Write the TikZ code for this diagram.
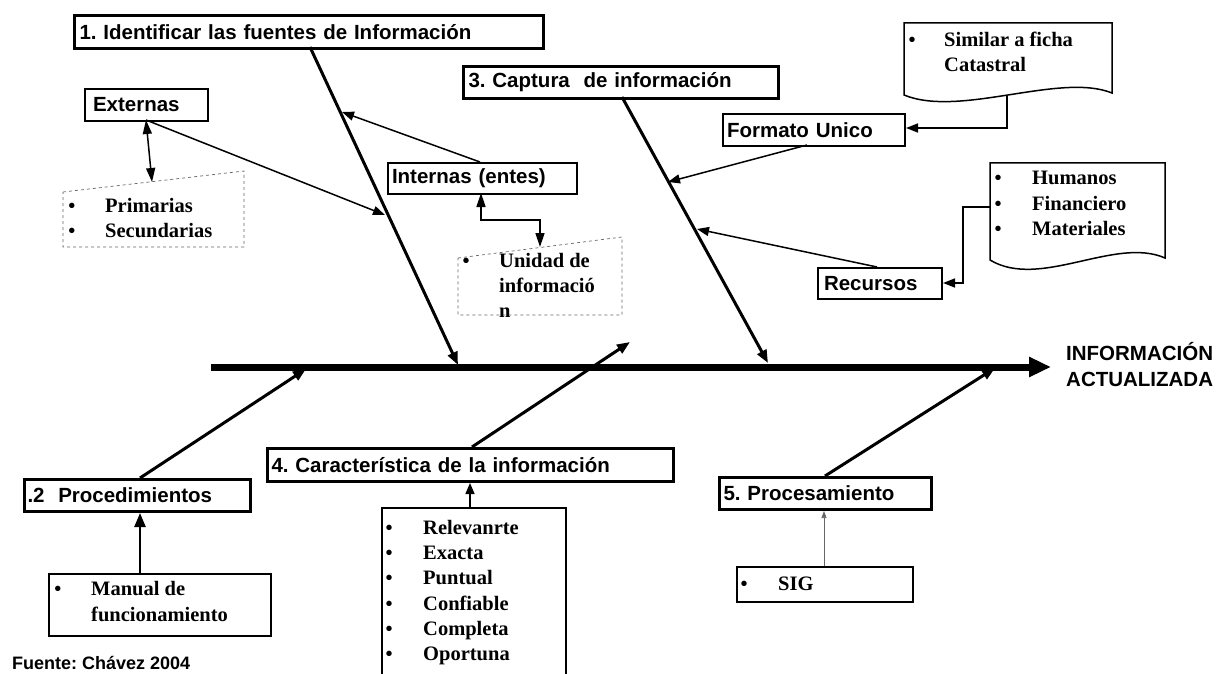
\documentclass[tikz,border=0pt]{standalone}
\usepackage{fontspec}
\setmainfont{Liberation Serif}
\setsansfont{Liberation Sans}
\usetikzlibrary{arrows.meta}
\frenchspacing
\begin{document}
\begin{tikzpicture}[x=1pt,y=-1pt,
 hdr/.style={draw, line width=3pt, anchor=north west, inner xsep=5pt, inner ysep=0pt, align=left, font=\sffamily\bfseries\fontsize{20.5}{24}\selectfont},
 sub/.style={hdr, line width=2pt},
 plainbox/.style={draw, line width=1.5pt, anchor=north west, inner sep=0pt},
 item/.style={anchor=west, inner sep=0pt, text height=15pt, text depth=5pt, font=\bfseries\fontsize{20.5}{24}\selectfont},
 bul/.style={anchor=center, inner sep=0pt, text height=15pt, text depth=5pt, font=\bfseries\fontsize{20}{24}\selectfont},
 bone/.style={line width=3pt, -{Triangle[length=13pt,width=10pt]}},
 thin/.style={line width=1.5pt, -{Triangle[length=12pt,width=9pt]}},
 thinboth/.style={line width=1.5pt, {Triangle[length=14pt,width=9pt]}-{Triangle[length=14pt,width=9pt]}},
 dashbox/.style={draw=black!60, line width=0.7pt, dashed},
]
\useasboundingbox (0,0) rectangle (1221,674);

% main boxes
\node[hdr, text width=459pt, minimum height=33pt] (b1) at (73,14) {1. Identificar las fuentes de Información};
\node[hdr, text width=305pt, minimum height=32pt] (b3) at (462,65) {3. Captura\ \ de información};
\node[hdr, text width=220pt, minimum height=32pt, inner xsep=3pt] (b2) at (23,478) {.2\ \ Procedimientos};
\node[hdr, text width=398pt, minimum height=33pt, inner xsep=4pt] (b4) at (266,447) {4. Característica de la información};
\node[hdr, text width=204pt, minimum height=32pt, inner xsep=4pt] (b5) at (718,476) {5. Procesamiento};

% sub boxes
\node[sub, text width=107pt, minimum height=32pt, inner xsep=8pt] (ext) at (84,88) {Externas};
\node[sub, text width=181pt, minimum height=31pt, inner xsep=4pt] (int) at (387,162) {Internas (entes)};
\node[sub, text width=174pt, minimum height=32pt, inner xsep=4pt] (fmt) at (722,113) {Formato Unico};
\node[sub, text width=112pt, minimum height=31pt, inner xsep=6pt] (rec) at (817,267) {Recursos};

% plain boxes
\node[plainbox, minimum width=222pt, minimum height=62pt] (man) at (48,573) {};
\node[plainbox, minimum width=184pt, minimum height=200pt] (car) at (381,507) {};
\node[plainbox, minimum width=176pt, minimum height=35pt] (sig) at (736,566) {};

% dashed boxes
\draw[dashbox] (63,192) -- (244,171) -- (244,247) -- (63,247) -- cycle;
\draw[dashbox] (458,258) -- (622,237) -- (622,315) -- (458,315) -- cycle;
\coordinate (pri) at (152,182);
\coordinate (uni) at (540,247);

% document shapes
\draw[line width=1.5pt] (904,23) -- (1112,23) -- (1112,93) .. controls (1060,72) and (960,118) .. (904,95) -- cycle;
\draw[line width=1.5pt] (990,163) -- (1165,163) -- (1165,258) .. controls (1115,236) and (1040,290) .. (990,260) -- cycle;
\coordinate (d1) at (1007,96);
\coordinate (d2) at (990,207);

% texts
\node[bul] (t1) at (72,207) {•};
\node[item] (t2) at (105,207) {Primarias};
\node[bul] (t3) at (72,232) {•};
\node[item] (t4) at (105,232) {Secundarias};

\node[bul] (u1) at (466,262) {•};
\node[item] (u2) at (499,262) {Unidad de};
\node[item] (u3) at (499,287) {informació};
\node[item] (u4) at (499,312) {n};

\node[bul] (s1) at (912,42) {•};
\node[item] (s2) at (944,42) {Similar a ficha};
\node[item] (s3) at (944,67) {Catastral};

\node[bul] (h1) at (998,180) {•};
\node[item] (h2) at (1032,180) {Humanos};
\node[bul] (h3) at (998,205) {•};
\node[item] (h4) at (1032,205) {Financiero};
\node[bul] (h5) at (998,230) {•};
\node[item] (h6) at (1032,230) {Materiales};

\node[bul] (m1) at (58,590) {•};
\node[item] (m2) at (91,590) {Manual de};
\node[item] (m3) at (91,616) {funcionamiento};

\foreach \t/\y [count=\i] in {Relevanrte/529,Exacta/554,Puntual/579,Confiable/605,Completa/630,Oportuna/655}{
  \node[bul] (cb\i) at (389,\y) {•};
  \node[item] (ct\i) at (423,\y) {\t};
}

\node[bul] (g1) at (744,585) {•};
\node[item] (g2) at (778,585) {SIG};

\node[anchor=west, inner sep=0pt, align=left, font=\sffamily\bfseries\fontsize{20.5}{26}\selectfont] (res) at (1066,365) {INFORMACIÓN\\ACTUALIZADA};
\node[anchor=base west, inner sep=0pt, font=\sffamily\bfseries\fontsize{18}{20}\selectfont] (src) at (12,669) {Fuente: Chávez 2004};

% spine
\coordinate (sp0) at (211,367);
\coordinate (sp1) at (1051,367);
\draw[line width=7pt, -{Triangle[length=22pt,width=19pt]}] (sp0) -- (sp1);

% bones
\coordinate (o1) at (310,47);  \coordinate (e1) at (458,365);
\coordinate (o3) at (622,97);  \coordinate (e3) at (768,363);
\coordinate (o2) at (140,478); \coordinate (e2) at (306,369);
\coordinate (o4) at (472,447); \coordinate (e4) at (630,342);
\coordinate (o5) at (825,476); \coordinate (e5) at (995,368);
\draw[bone] (o1) -- (e1);
\draw[bone] (o3) -- (e3);
\draw[bone] (o2) -- (e2);
\draw[bone] (o4) -- (e4);
\draw[bone] (o5) -- (e5);

% thin connectors
\coordinate (exb) at (146,120);
\draw[thinboth] (exb) -- (pri);
\draw[thin] (exb) -- (385,215) coordinate (x1);
\draw[thin] (480,162) -- (342,112) coordinate (x2);
\draw[thinboth] (481,193) -- (481,220) -- (540,220) -- (uni);
\draw[thin] (807,145) -- (668,182) coordinate (x3);
\draw[thin] (d1) -- (1007,128) -- (fmt.east |- 0,128);
\draw[thin] (877,267) -- (697,229) coordinate (x4);
\draw[thin] (d2) -- (963,207) -- (963,283) -- (rec.east |- 0,283);
\draw[line width=2.5pt, -{Triangle[length=14pt,width=11pt]}] (man.north -| 140,0) -- (b2.south -| 140,0);
\draw[line width=1.5pt, -{Triangle[length=11pt,width=9pt]}] (car.north -| 470,0) -- (b4.south -| 470,0);
\draw[line width=0.6pt, draw=black!60, -{Triangle[length=7pt,width=5pt]}] (sig.north -| 824,0) -- (b5.south -| 824,0);
\end{tikzpicture}
\end{document}
